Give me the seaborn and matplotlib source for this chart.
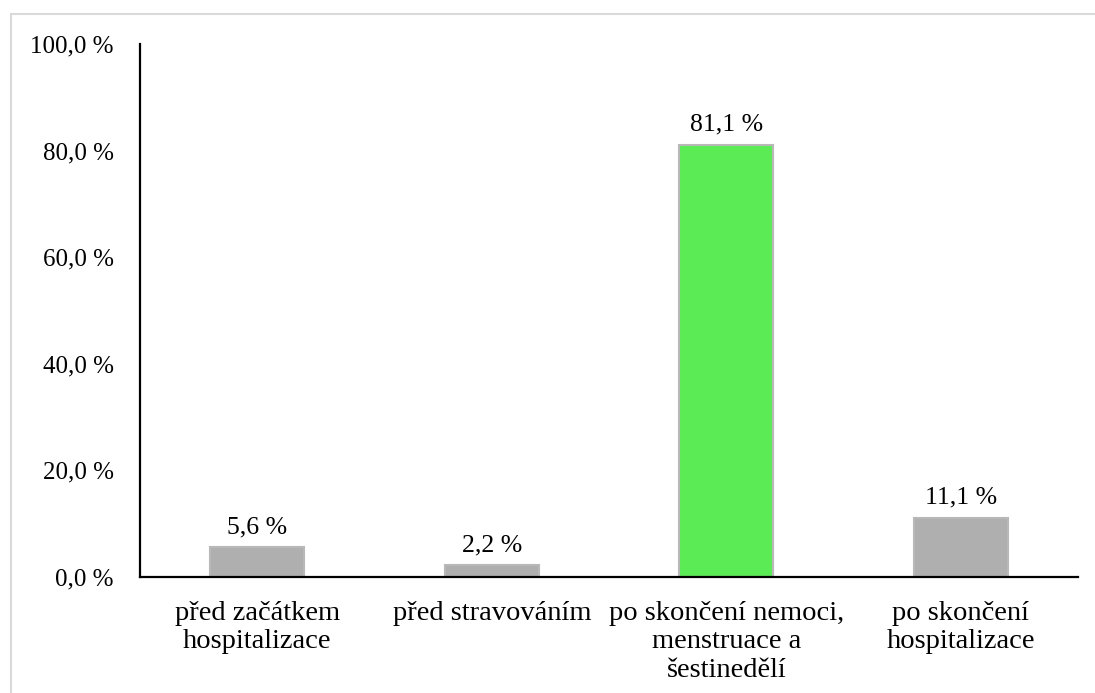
import matplotlib
matplotlib.use("Agg")
import matplotlib.pyplot as plt
import seaborn as sns
from matplotlib.lines import Line2D

categories = [
    "před začátkem\nhospitalizace",
    "před stravováním",
    "po skončení nemoci,\nmenstruace a\nšestinedělí",
    "po skončení\nhospitalizace",
]
values = [5.6, 2.2, 81.1, 11.1]
bar_colors = ["#AFAFAF", "#AFAFAF", "#5BEB55", "#AFAFAF"]
y_ticks = [0, 20, 40, 60, 80, 100]


def pct(v):
    return f"{v:.1f}".replace(".", ",") + " %"


sns.set_theme(style="white")
plt.rcParams["font.family"] = ["Liberation Serif", "DejaVu Serif"]

fig = plt.figure(figsize=(10.95, 6.93), dpi=100)
ax = fig.add_axes([0.1279, 0.1674, 0.8566, 0.7691])

sns.barplot(
    x=categories, y=values, hue=categories, palette=bar_colors,
    legend=False, width=0.4, edgecolor="#B8B8B8", linewidth=1.5,
    saturation=1, ax=ax,
)

for patch, v in zip(ax.patches, values):
    ax.annotate(
        pct(v),
        xy=(patch.get_x() + patch.get_width() / 2, v),
        xytext=(0, 6.5), textcoords="offset points",
        ha="center", va="bottom", fontsize=18.5, color="black",
    )

ax.set_ylim(0, 100)
ax.set_xlim(-0.5, len(categories) - 0.5)
ax.set_yticks(y_ticks)
ax.set_yticklabels([pct(t) for t in y_ticks])
ax.tick_params(axis="y", length=0, pad=19, labelsize=18, labelcolor="black")
ax.tick_params(axis="x", length=0, pad=17, labelsize=20.5, labelcolor="black")
for lbl in ax.get_xticklabels():
    lbl.set_linespacing(1.2)

for side in ("top", "right"):
    ax.spines[side].set_visible(False)
for side in ("left", "bottom"):
    ax.spines[side].set_color("black")
    ax.spines[side].set_linewidth(1.6)
ax.grid(False)

# light outer frame along the top and left edges
W, H = 1095, 693
fig.add_artist(Line2D([11 / W, 11 / W], [0, 1 - 14 / H], transform=fig.transFigure,
                      color="#D9D9D9", linewidth=1.5))
fig.add_artist(Line2D([11 / W, 1], [1 - 14 / H, 1 - 14 / H], transform=fig.transFigure,
                      color="#D9D9D9", linewidth=1.5))

fig.savefig("out.png", dpi=100, facecolor="white")
